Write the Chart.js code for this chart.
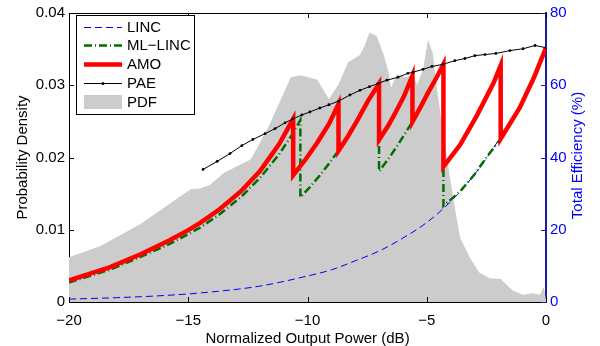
<!DOCTYPE html>
<html>
<head>
<meta charset="utf-8">
<script src="https://cdn.jsdelivr.net/npm/chart.js@4.4.0/dist/chart.umd.min.js"></script>
<style>
  html, body { margin: 0; padding: 0; background: #fff; }
  #wrap { width: 600px; height: 346px; }
</style>
</head>
<body>
<div id="wrap"><canvas id="effChart" width="600" height="346"></canvas></div>
<script>
// axis ticks
const xTicks = [-20, -15, -10, -5, 0];
const densityTicks = [0, 0.01, 0.02, 0.03, 0.04];
const effTicks = [0, 20, 40, 60, 80];

// PDF of output power (left axis)
const pdfX = [-20, -18.7, -17.0, -15.6, -14.9, -14.5, -14.1, -13.5, -12.4, -12.2, -11.6, -10.7, -10.3, -9.6,
  -9.1, -8.7, -8.3, -7.8, -7.6, -7.4, -7.1, -6.8, -6.6, -6.5, -6.25, -5.9, -5.6, -5.4, -5.15, -4.95,
  -4.75, -4.57, -4.32, -4.0, -3.8, -3.6, -3.2, -2.8, -2.35, -1.9, -1.4, -0.95, -0.55, -0.25, -0.1, 0];
const pdfY = [0.0062, 0.0077, 0.0108, 0.0140, 0.0156, 0.0157, 0.0162, 0.0179, 0.0197, 0.0208, 0.0245, 0.0311, 0.0314, 0.0308,
  0.0281, 0.0301, 0.0332, 0.0342, 0.0355, 0.0373, 0.0368, 0.0342, 0.0318, 0.0297, 0.0315, 0.0311, 0.0314, 0.0301, 0.0322, 0.0363,
  0.0345, 0.0295, 0.0236, 0.0167, 0.0126, 0.0089, 0.0062, 0.0041, 0.0033, 0.0032, 0.0016, 0.0010, 0.0012, 0.0010, 0.0021, 0.0003];

// LINC efficiency (%)
const lincX = [-20, -18, -16, -14, -12, -10, -9, -8, -7, -6, -5, -4, -3, -2, -1, 0];
const lincY = [0.8, 1.2, 1.8, 2.8, 4.4, 7.2, 8.9, 11.4, 14.1, 17.7, 22.0, 27.8, 35.3, 44.7, 56.0, 70.4];

// ML-LINC efficiency (%)
const mlX = [-20, -18.3, -17.0, -15.8, -15.0, -14.5, -13.7, -12.8, -12.0, -11.2, -10.6, -10.3,
  -10.3, -9.9, -9.5, -9.1, -8.7, -8.3, -7.9, -7.45, -7.0,
  -7.0, -6.6, -6.3, -5.95, -5.6, -5.25, -4.95, -4.6, -4.3,
  -4.3, -3.6, -3.0, -2.5, -1.9, -1.1, -0.5, 0];
const mlY = [5.4, 8.9, 12.5, 16.0, 18.8, 20.6, 24.2, 29.0, 34.3, 40.8, 46.8, 50.4,
  29.0, 31.8, 34.9, 38.3, 41.9, 45.9, 50.4, 55.8, 60.5,
  36.2, 39.7, 42.6, 46.2, 49.9, 54.1, 57.9, 62.0, 65.8,
  26.6, 30.6, 35.3, 40.0, 45.2, 53.8, 62.2, 70.4];

// AMO efficiency (%)
const amoX = [-20, -18.3, -17.0, -15.8, -15.0, -14.5, -13.7, -12.8, -12.0, -11.2, -10.6,
  -10.6, -10.1, -9.6, -9.1, -8.7,
  -8.7, -8.3, -7.9, -7.45, -7.0,
  -7.0, -6.6, -6.3, -5.95, -5.6,
  -5.6, -5.25, -4.95, -4.6, -4.3,
  -4.3, -3.6, -2.9, -2.2, -1.9,
  -1.9, -1.1, -0.5, 0];
const amoY = [6.0, 9.6, 13.2, 17.0, 19.9, 21.9, 25.6, 30.6, 36.2, 43.6, 50.7,
  35.1, 39.3, 44.0, 49.3, 54.8,
  41.9, 45.9, 50.4, 55.8, 60.5,
  44.9, 49.0, 52.6, 57.0, 62.7,
  49.9, 54.1, 57.9, 62.0, 65.8,
  37.5, 43.5, 51.6, 60.6, 65.5,
  45.2, 53.8, 62.2, 70.4];

// PAE (%)
const paeX = [-14.38, -13.79, -13.25, -12.75, -12.29, -11.78, -11.36, -10.94, -10.61, -10.23, -9.90, -9.48, -9.1,
  -8.7, -8.22, -7.80, -7.4, -7.04, -6.67, -6.21, -5.79, -5.58, -5.16, -4.78, -4.32, -3.82, -3.40, -2.98,
  -2.56, -2.10, -1.51, -0.96, -0.46, 0];
const paeY = [36.7, 38.9, 41.1, 43.3, 45.0, 46.6, 48.0, 49.6, 50.7, 51.8, 52.6, 53.7, 54.6,
  55.6, 57.3, 58.6, 59.6, 60.5, 61.4, 62.2, 63.3, 63.6, 64.4, 65.2, 65.8, 66.8, 67.4, 68.2,
  68.5, 68.8, 69.6, 70.1, 71.0, 70.4];

const FONT = '"Liberation Sans", Arial, Helvetica, sans-serif';
const BLUE = '#0000ff';
const NAVY = '#1c1ca0';
const GREEN = '#006e00';

function pts(xs, ys) {
    return xs.map((x, i) => ({ x: x, y: ys[i] }));
}

function fmtX(v) {
    return v < 0 ? '\u2212' + Math.abs(v) : String(v);
}

const legendItems = [
    { text: 'LINC', color: BLUE, width: 1, dash: [7, 4] },
    { text: 'ML\u2212LINC', color: GREEN, width: 2.5, dash: [8, 3, 1, 3] },
    { text: 'AMO', color: '#ff0000', width: 4.5, dash: [] },
    { text: 'PAE', color: '#000', width: 1, dash: [], marker: true },
    { text: 'PDF', box: '#cccccc' }
];

const framePlugin = {
    id: 'frame',
    afterDraw(c) {
        const ctx = c.ctx;
        const a = c.chartArea;
        const sx = c.scales.x, sy = c.scales.y, sy1 = c.scales.y1;
        ctx.save();

        // top border
        ctx.strokeStyle = '#000';
        ctx.lineWidth = 1;
        ctx.beginPath();
        ctx.moveTo(a.left, a.top + 0.5);
        ctx.lineTo(a.right, a.top + 0.5);
        ctx.stroke();

        // inward ticks
        const tl = 5;
        ctx.beginPath();
        xTicks.forEach(v => {
            const px = Math.round(sx.getPixelForValue(v)) + 0.5;
            ctx.moveTo(px, a.bottom); ctx.lineTo(px, a.bottom - tl);
            ctx.moveTo(px, a.top); ctx.lineTo(px, a.top + tl);
        });
        densityTicks.forEach(v => {
            const py = Math.round(sy.getPixelForValue(v)) + 0.5;
            ctx.moveTo(a.left, py); ctx.lineTo(a.left + tl, py);
        });
        ctx.stroke();
        ctx.strokeStyle = NAVY;
        ctx.beginPath();
        effTicks.forEach(v => {
            const py = Math.round(sy1.getPixelForValue(v)) + 0.5;
            ctx.moveTo(a.right, py); ctx.lineTo(a.right - tl, py);
        });
        ctx.stroke();

        // right axis title, reading bottom to top
        ctx.fillStyle = BLUE;
        ctx.font = '15px ' + FONT;
        ctx.textAlign = 'center';
        ctx.textBaseline = 'middle';
        ctx.translate(578, (a.top + a.bottom) / 2 - 2);
        ctx.rotate(-Math.PI / 2);
        ctx.fillText('Total Efficiency (%)', 0, 0);
        ctx.setTransform(1, 0, 0, 1, 0, 0);

        // legend box
        const bx = 76.5, by = 15.5, bw = 118, bh = 99;
        ctx.fillStyle = '#fff';
        ctx.fillRect(bx, by, bw, bh);
        ctx.strokeStyle = '#000';
        ctx.lineWidth = 1;
        ctx.strokeRect(bx, by, bw, bh);
        const rows = [27, 45, 64, 83, 102];
        ctx.font = '15px ' + FONT;
        ctx.textAlign = 'left';
        ctx.textBaseline = 'middle';
        legendItems.forEach((it, i) => {
            const y = rows[i];
            if (it.box) {
                ctx.fillStyle = it.box;
                ctx.fillRect(84, y - 7, 38, 14);
            } else {
                ctx.strokeStyle = it.color;
                ctx.lineWidth = it.width;
                ctx.setLineDash(it.dash);
                ctx.beginPath();
                ctx.moveTo(84, y + 0.5);
                ctx.lineTo(122, y + 0.5);
                ctx.stroke();
                ctx.setLineDash([]);
                if (it.marker) {
                    ctx.fillStyle = it.color;
                    ctx.beginPath();
                    ctx.arc(103, y + 0.5, 1.5, 0, Math.PI * 2);
                    ctx.fill();
                }
            }
            ctx.fillStyle = '#000';
            ctx.fillText(it.text, 127, y + 1);
        });
        ctx.restore();
    }
};

const ctx = document.getElementById('effChart').getContext('2d');
const chart = new Chart(ctx, {
    type: 'line',
    data: {
        datasets: [
            {
                label: 'PAE', data: pts(paeX, paeY), yAxisID: 'y1',
                borderColor: '#000', borderWidth: 1, tension: 0,
                pointRadius: 1.4, pointBackgroundColor: '#000', pointBorderWidth: 0,
                order: 1
            },
            {
                label: 'AMO', data: pts(amoX, amoY), yAxisID: 'y1',
                borderColor: '#ff0000', borderWidth: 4.5, tension: 0, pointRadius: 0,
                order: 2
            },
            {
                label: 'ML-LINC', data: pts(mlX, mlY), yAxisID: 'y1',
                borderColor: GREEN, borderWidth: 2.5, borderDash: [8, 3, 1, 3], tension: 0, pointRadius: 0,
                order: 3
            },
            {
                label: 'LINC', data: pts(lincX, lincY), yAxisID: 'y1',
                borderColor: BLUE, borderWidth: 1, borderDash: [7, 4],
                cubicInterpolationMode: 'monotone', pointRadius: 0,
                order: 4
            },
            {
                label: 'PDF', data: pts(pdfX, pdfY), yAxisID: 'y',
                borderColor: '#cccccc', borderWidth: 0, backgroundColor: '#cccccc',
                fill: 'origin', tension: 0, pointRadius: 0,
                order: 5
            }
        ]
    },
    options: {
        responsive: false,
        animation: false,
        layout: { padding: { top: 10, left: 0, right: 0, bottom: 0 } },
        plugins: {
            legend: { display: false },
            tooltip: { enabled: false }
        },
        scales: {
            x: {
                type: 'linear', min: -20, max: 0, z: 1,
                afterFit: s => { s.height = 44; },
                grid: { display: true, drawOnChartArea: false, drawTicks: false },
                border: { display: true, color: '#000', width: 1 },
                ticks: {
                    stepSize: 5, padding: 10, color: '#000',
                    font: { family: FONT, size: 15 },
                    callback: v => fmtX(v)
                },
                title: {
                    display: true, text: 'Normalized Output Power (dB)', color: '#000',
                    font: { family: FONT, size: 15, lineHeight: 1 }, padding: 0
                }
            },
            y: {
                position: 'left', min: 0, max: 0.04, z: 1,
                afterFit: s => { s.width = 69; },
                grid: { display: true, drawOnChartArea: false, drawTicks: false },
                border: { display: true, color: '#000', width: 1 },
                ticks: {
                    stepSize: 0.01, padding: 4, color: '#000',
                    font: { family: FONT, size: 15 },
                    callback: v => (v === 0 ? '0' : v.toFixed(2))
                },
                title: {
                    display: true, text: 'Probability Density', color: '#000',
                    font: { family: FONT, size: 15, lineHeight: 1 }, padding: { top: 15, bottom: 0 }
                }
            },
            y1: {
                position: 'right', min: 0, max: 80, z: 1,
                afterFit: s => { s.width = 54; },
                grid: { display: true, drawOnChartArea: false, drawTicks: false },
                border: { display: true, color: NAVY, width: 2 },
                ticks: {
                    stepSize: 20, padding: 4, color: BLUE,
                    font: { family: FONT, size: 15 }
                }
            }
        }
    },
    plugins: [framePlugin]
});
</script>
</body>
</html>
